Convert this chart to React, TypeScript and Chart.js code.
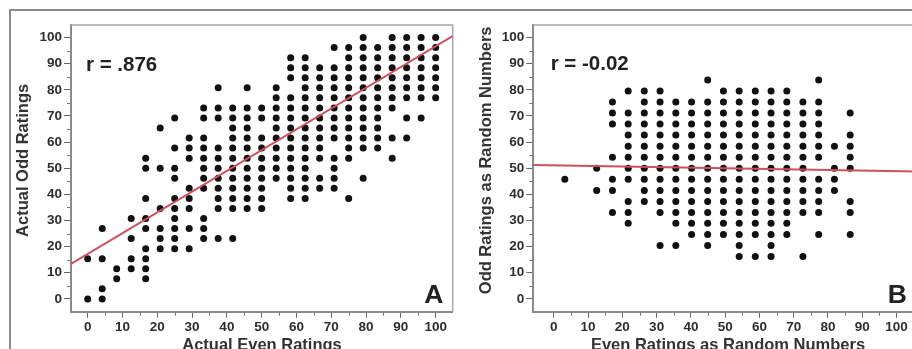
import React, { useEffect, useRef } from 'react';
import { Chart, registerables } from 'chart.js';

Chart.register(...registerables);

// ---------------- data ----------------
const MAJOR_TICKS = [0, 10, 20, 30, 40, 50, 60, 70, 80, 90, 100];
const MINOR_TICKS = [5, 15, 25, 35, 45, 55, 65, 75, 85, 95];
const Y_RANGE: [number, number] = [-4.9, 104.8];

// Panel A: Actual even ratings (x) vs actual odd ratings (y); one list of x values per y row
const A_ROW_Y = [100, 96.15, 92.31, 88.46, 84.62, 80.77, 76.92, 73.08, 69.23, 65.38, 61.54, 57.69, 53.85, 50, 46.15, 42.31, 38.46, 34.62, 30.77, 26.92, 23.08, 19.23, 15.38, 11.54, 7.69, 3.85, 0];
const A_ROW_X: number[][] = [
  [79.17, 87.5, 91.67, 95.83, 100],
  [70.83, 75, 79.17, 83.33, 87.5, 91.67, 95.83, 100],
  [58.33, 62.5, 75, 79.17, 83.33, 87.5, 91.67, 95.83, 100],
  [58.33, 62.5, 66.67, 70.83, 75, 79.17, 83.33, 87.5, 91.67, 95.83, 100],
  [58.33, 62.5, 66.67, 70.83, 75, 79.17, 83.33, 87.5, 91.67, 95.83, 100],
  [37.5, 45.83, 54.17, 62.5, 66.67, 70.83, 75, 79.17, 83.33, 87.5, 91.67, 95.83, 100],
  [54.17, 58.33, 62.5, 66.67, 70.83, 75, 79.17, 83.33, 87.5, 91.67, 95.83, 100],
  [33.33, 37.5, 41.67, 45.83, 50, 54.17, 58.33, 62.5, 66.67, 70.83, 75, 79.17, 83.33, 87.5],
  [25, 33.33, 37.5, 41.67, 45.83, 50, 54.17, 58.33, 62.5, 66.67, 70.83, 75, 79.17, 83.33, 91.67, 95.83],
  [20.83, 41.67, 45.83, 54.17, 58.33, 62.5, 66.67, 70.83, 75, 79.17, 83.33],
  [29.17, 33.33, 41.67, 45.83, 50, 54.17, 58.33, 62.5, 66.67, 70.83, 75, 79.17, 83.33, 87.5, 91.67],
  [25, 29.17, 33.33, 37.5, 41.67, 45.83, 50, 54.17, 58.33, 62.5, 66.67, 75, 79.17, 83.33],
  [16.67, 29.17, 33.33, 37.5, 41.67, 45.83, 50, 54.17, 58.33, 62.5, 66.67, 70.83, 75, 87.5],
  [16.67, 20.83, 25, 33.33, 37.5, 41.67, 45.83, 50, 54.17, 58.33, 62.5, 70.83],
  [25, 33.33, 37.5, 41.67, 45.83, 50, 54.17, 58.33, 62.5, 66.67, 70.83, 79.17],
  [29.17, 33.33, 37.5, 41.67, 45.83, 50, 58.33, 62.5, 66.67, 70.83],
  [16.67, 25, 29.17, 37.5, 41.67, 45.83, 50, 58.33, 62.5, 75],
  [20.83, 25, 29.17, 37.5, 41.67, 45.83, 50],
  [12.5, 16.67, 25, 33.33],
  [4.17, 16.67, 20.83, 25, 29.17, 33.33],
  [12.5, 20.83, 25, 33.33, 37.5, 41.67],
  [16.67, 20.83, 25, 29.17],
  [0, 4.17, 12.5, 16.67],
  [8.33, 12.5, 16.67],
  [8.33, 16.67],
  [4.17],
  [0, 4.17],
];
const A_X_RANGE: [number, number] = [-4.8, 104.9];
const A_FIT_INTERCEPT = 17.2;
const A_FIT_SLOPE = 0.795;
const A_R_TEXT = 'r = .876';

// Panel B: even ratings as random numbers (x) vs odd ratings as random numbers (y)
const B_ROW_Y = [83.8, 79.5, 75.3, 71.1, 66.9, 62.7, 58.4, 54.2, 50.0, 45.8, 41.5, 37.3, 33.1, 28.9, 24.6, 20.4, 16.2];
const B_ROW_X: number[][] = [
  [44.9, 77.3],
  [21.7, 26.4, 31.0, 49.5, 54.1, 58.8, 63.4, 68.0],
  [17.1, 26.4, 31.0, 35.6, 40.2, 44.9, 49.5, 54.1, 58.8, 63.4, 68.0, 72.7, 77.3],
  [17.1, 21.7, 26.4, 31.0, 35.6, 40.2, 44.9, 49.5, 54.1, 58.8, 63.4, 68.0, 72.7, 77.3, 86.5],
  [17.1, 21.7, 26.4, 31.0, 35.6, 40.2, 44.9, 49.5, 54.1, 58.8, 63.4, 68.0, 72.7, 77.3],
  [21.7, 26.4, 31.0, 35.6, 40.2, 44.9, 49.5, 54.1, 58.8, 63.4, 68.0, 72.7, 77.3, 86.5],
  [21.7, 26.4, 31.0, 35.6, 40.2, 44.9, 49.5, 54.1, 58.8, 63.4, 68.0, 72.7, 77.3, 81.9, 86.5],
  [17.1, 21.7, 26.4, 31.0, 35.6, 40.2, 44.9, 49.5, 54.1, 58.8, 63.4, 68.0, 72.7, 77.3, 86.5],
  [12.5, 21.7, 26.4, 31.0, 35.6, 40.2, 44.9, 49.5, 54.1, 58.8, 63.4, 68.0, 72.7, 81.9, 86.5],
  [3.2, 17.1, 21.7, 26.4, 31.0, 35.6, 40.2, 44.9, 49.5, 54.1, 58.8, 63.4, 68.0, 72.7, 77.3, 81.9],
  [12.5, 17.1, 26.4, 31.0, 35.6, 40.2, 44.9, 49.5, 54.1, 58.8, 63.4, 68.0, 72.7, 77.3, 81.9],
  [21.7, 26.4, 31.0, 35.6, 40.2, 44.9, 49.5, 54.1, 58.8, 63.4, 68.0, 72.7, 77.3, 86.5],
  [17.1, 21.7, 31.0, 35.6, 40.2, 44.9, 49.5, 54.1, 58.8, 63.4, 68.0, 72.7, 77.3, 86.5],
  [21.7, 35.6, 40.2, 44.9, 49.5, 54.1, 58.8, 63.4, 68.0],
  [40.2, 44.9, 49.5, 54.1, 58.8, 63.4, 68.0, 77.3, 86.5],
  [31.0, 35.6, 44.9, 54.1, 63.4],
  [54.1, 58.8, 63.4, 72.7],
];
const B_X_RANGE: [number, number] = [-6.0, 106.0];
const B_FIT_INTERCEPT = 51.1;
const B_FIT_SLOPE = -0.022;
const B_R_TEXT = 'r = -0.02';

// ---------------- drawing ----------------
const FONT = '"Liberation Sans", Arial, Helvetica, sans-serif';

type PanelProps = {
  rowY: number[];
  rowX: number[][];
  xRange: [number, number];
  intercept: number;
  slope: number;
  rText: string;
  letter: string;
  xTitle: string;
  yTitle: string;
  left: number;
  width: number;
  yAxisWidth: number;
  padRight: number;
  rDx: number;
  rDy: number;
  letterDx: number;
  letterDy: number;
  xTitleX: number;
  yTitleX: number;
};

const CANVAS_H = 337;
const PAD_TOP = 13;
const X_AXIS_H = 37.3;

function Panel(p: PanelProps) {
  const ref = useRef<HTMLCanvasElement | null>(null);

  useEffect(() => {
    if (!ref.current) return;
    const points = p.rowX.flatMap((xs, i) => xs.map((x) => ({ x, y: p.rowY[i] })));
    const fitLine = p.xRange.map((x) => ({ x, y: p.intercept + p.slope * x }));

    const decor = {
      id: 'decor' + p.letter,
      beforeDatasetsDraw(chart: any) {
        const { ctx, chartArea: a } = chart;
        const xs = chart.scales.x;
        const ys = chart.scales.y;
        ctx.save();
        ctx.strokeStyle = '#a6a6a6';
        ctx.lineWidth = 1.5;
        ctx.beginPath();
        ctx.moveTo(a.left, a.top);
        ctx.lineTo(a.right, a.top);
        ctx.lineTo(a.right, a.bottom);
        ctx.stroke();
        ctx.strokeStyle = '#777';
        ctx.lineWidth = 1;
        ctx.beginPath();
        MINOR_TICKS.forEach((v) => {
          const px = Math.round(xs.getPixelForValue(v)) + 0.5;
          ctx.moveTo(px, a.bottom + 1);
          ctx.lineTo(px, a.bottom + 4);
          const py = Math.round(ys.getPixelForValue(v)) + 0.5;
          ctx.moveTo(a.left - 1, py);
          ctx.lineTo(a.left - 4, py);
        });
        ctx.stroke();
        ctx.restore();
      },
      afterDraw(chart: any) {
        const { ctx, chartArea: a } = chart;
        ctx.save();
        ctx.fillStyle = '#222';
        ctx.textBaseline = 'alphabetic';
        ctx.font = `bold 20.5px ${FONT}`;
        ctx.textAlign = 'left';
        ctx.fillText(p.rText, a.left + p.rDx, a.top + p.rDy);
        ctx.font = `bold 26.5px ${FONT}`;
        ctx.textAlign = 'right';
        ctx.fillText(p.letter, a.right - p.letterDx, a.bottom - p.letterDy);
        ctx.fillStyle = '#333';
        ctx.font = `bold 16.5px ${FONT}`;
        ctx.textAlign = 'center';
        ctx.fillText(p.xTitle, p.xTitleX, chart.height + 0.5);
        ctx.translate(p.yTitleX, (a.top + a.bottom) / 2 - 8);
        ctx.rotate(-Math.PI / 2);
        ctx.fillText(p.yTitle, 0, 0);
        ctx.restore();
      },
    };

    const tickFont = { family: FONT, weight: 'bold' as const, size: 13.5 };
    const chart = new Chart(ref.current, {
      type: 'scatter',
      data: {
        datasets: [
          {
            data: fitLine,
            showLine: true,
            borderColor: '#d14f5b',
            borderWidth: 2,
            pointRadius: 0,
            fill: false,
          } as any,
          {
            data: points,
            pointRadius: 3.5,
            pointBackgroundColor: '#111',
            pointBorderWidth: 0,
            showLine: false,
          },
        ],
      },
      options: {
        responsive: false,
        animation: false,
        events: [],
        layout: { padding: { left: 0, top: PAD_TOP, right: p.padRight, bottom: 0 } },
        plugins: { legend: { display: false }, tooltip: { enabled: false } },
        scales: {
          x: {
            type: 'linear',
            min: p.xRange[0],
            max: p.xRange[1],
            afterBuildTicks: (s: any) => {
              s.ticks = MAJOR_TICKS.map((v) => ({ value: v }));
            },
            afterFit: (s: any) => {
              s.height = X_AXIS_H;
            },
            grid: { drawOnChartArea: false, drawTicks: true, tickLength: 6, tickColor: '#666', tickWidth: 1 },
            border: { display: true, color: '#8a8a8a', width: 2 },
            ticks: { font: tickFont, color: '#2e2e2e', padding: 1, maxRotation: 0, autoSkip: false },
          },
          y: {
            type: 'linear',
            min: Y_RANGE[0],
            max: Y_RANGE[1],
            afterBuildTicks: (s: any) => {
              s.ticks = MAJOR_TICKS.map((v) => ({ value: v }));
            },
            afterFit: (s: any) => {
              s.width = p.yAxisWidth;
            },
            grid: { drawOnChartArea: false, drawTicks: true, tickLength: 7, tickColor: '#666', tickWidth: 1 },
            border: { display: true, color: '#8a8a8a', width: 2 },
            ticks: { font: tickFont, color: '#2e2e2e', padding: 2, autoSkip: false },
          },
        },
      },
      plugins: [decor],
    });
    return () => chart.destroy();
  }, []);

  return (
    <canvas
      ref={ref}
      width={p.width}
      height={CANVAS_H}
      style={{ position: 'absolute', left: p.left, top: 12, width: p.width, height: CANVAS_H, display: 'block' }}
    />
  );
}

export default function App() {
  return (
    <div
      style={{
        position: 'fixed',
        left: 0,
        top: 0,
        width: 912,
        height: 349,
        overflow: 'hidden',
        background: '#fff',
      }}
    >
      <div
        style={{
          position: 'absolute',
          left: 9,
          top: 9,
          width: 1000,
          height: 400,
          borderTop: '2px solid #8c8c8c',
          borderLeft: '2px solid #8c8c8c',
        }}
      />
      <Panel
        rowY={A_ROW_Y}
        rowX={A_ROW_X}
        xRange={A_X_RANGE}
        intercept={A_FIT_INTERCEPT}
        slope={A_FIT_SLOPE}
        rText={A_R_TEXT}
        letter="A"
        xTitle="Actual Even Ratings"
        yTitle="Actual Odd Ratings"
        left={11}
        width={449}
        yAxisWidth={60}
        padRight={7.3}
        rDx={15}
        rDy={46}
        letterDx={9.4}
        letterDy={9}
        xTitleX={251}
        yTitleX={17.3}
      />
      <Panel
        rowY={B_ROW_Y}
        rowX={B_ROW_X}
        xRange={B_X_RANGE}
        intercept={B_FIT_INTERCEPT}
        slope={B_FIT_SLOPE}
        rText={B_R_TEXT}
        letter="B"
        xTitle="Even Ratings as Random Numbers"
        yTitle="Odd Ratings as Random Numbers"
        left={460}
        width={500}
        yAxisWidth={73.3}
        padRight={43}
        rDx={17.4}
        rDy={45}
        letterDx={10}
        letterDy={8.7}
        xTitleX={268}
        yTitleX={30.7}
      />
    </div>
  );
}
